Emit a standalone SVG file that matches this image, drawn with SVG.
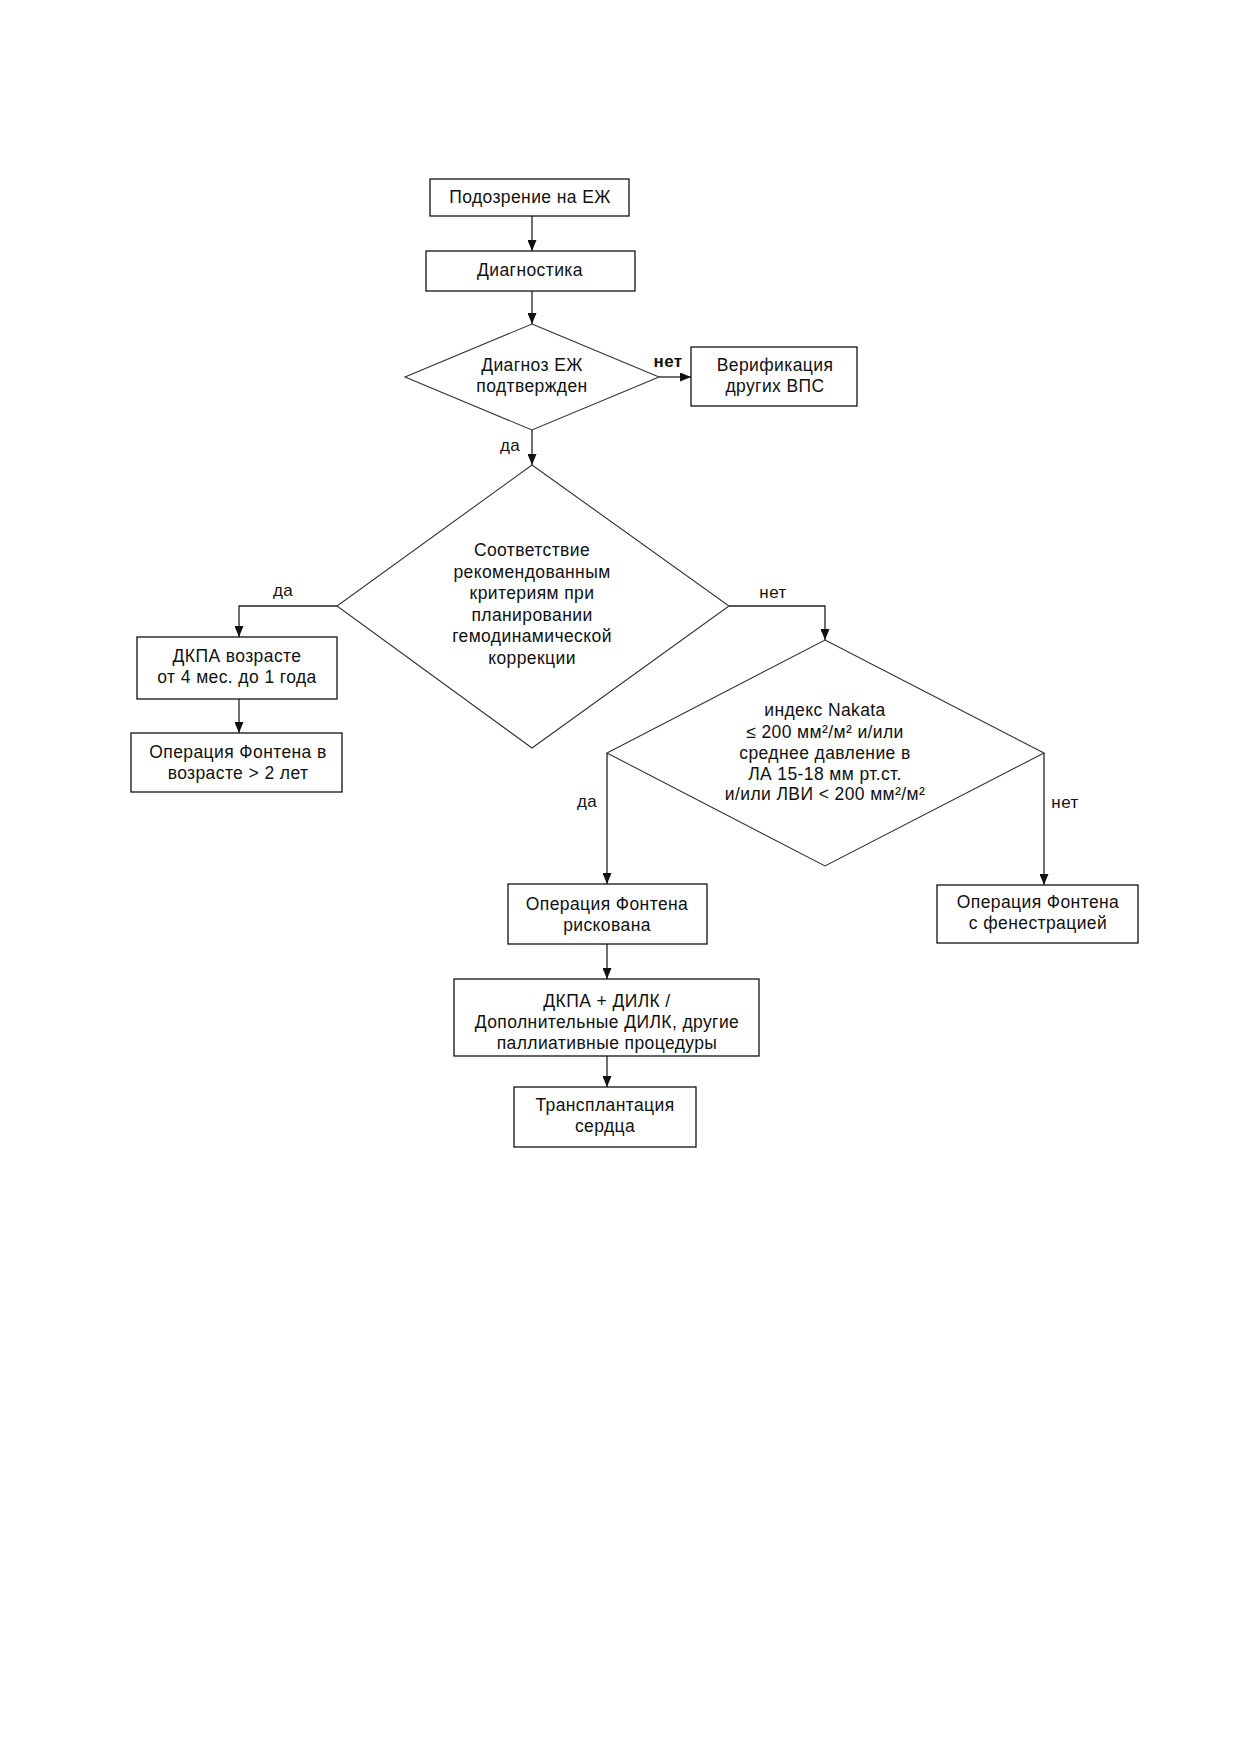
<svg xmlns="http://www.w3.org/2000/svg" width="1240" height="1754" viewBox="0 0 1240 1754">
<defs>
<marker id="arr" markerUnits="userSpaceOnUse" markerWidth="11" markerHeight="9" refX="11" refY="4.5" orient="auto">
<path d="M0,0 L11,4.5 L0,9 z" fill="#111"/>
</marker>
<style>
.box{fill:#fff;stroke:#111;stroke-width:1.3}
.dia{fill:#fff;stroke:#333;stroke-width:1.1}
.con{fill:none;stroke:#222;stroke-width:1.3;marker-end:url(#arr)}
text{font-family:"Liberation Sans",Arial,sans-serif;font-size:17.5px;letter-spacing:0.4px;fill:#111;text-anchor:middle}
.lbl{font-size:17px}
</style>
</defs>
<rect width="1240" height="1754" fill="#fff"/>

<g id="connectors">
<line class="con" x1="532" y1="216" x2="532" y2="251"/>
<line class="con" x1="532" y1="291" x2="532" y2="324"/>
<line class="con" x1="659" y1="377" x2="691" y2="377"/>
<line class="con" x1="532" y1="430" x2="532" y2="465"/>
<polyline class="con" points="337,606 239,606 239,637"/>
<line class="con" x1="239" y1="699" x2="239" y2="733"/>
<polyline class="con" points="729,606 825,606 825,640"/>
<line class="con" x1="607" y1="753" x2="607" y2="884"/>
<line class="con" x1="1044" y1="753" x2="1044" y2="885"/>
<line class="con" x1="607" y1="944" x2="607" y2="979"/>
<line class="con" x1="607" y1="1056" x2="607" y2="1087"/>
<text class="lbl" x="668" y="367" font-weight="bold">нет</text>
<text class="lbl" x="510" y="451">да</text>
<text class="lbl" x="283" y="596">да</text>
<text class="lbl" x="773" y="598">нет</text>
<text class="lbl" x="587" y="807">да</text>
<text class="lbl" x="1065" y="808">нет</text>
</g>

<g id="n1">
<rect class="box" x="430" y="179" width="199" height="37"/>
<text x="530" y="203">Подозрение на ЕЖ</text>
</g>

<g id="n2">
<rect class="box" x="426" y="251" width="209" height="40"/>
<text x="530" y="276">Диагностика</text>
</g>

<g id="d1">
<polygon class="dia" points="532,324 659,377 532,430 405,377"/>
<text x="532" y="371">Диагноз ЕЖ</text>
<text x="532" y="392">подтвержден</text>
</g>

<g id="n3">
<rect class="box" x="691" y="347" width="166" height="59"/>
<text x="775" y="371">Верификация</text>
<text x="775" y="392">других ВПС</text>
</g>

<g id="d2">
<polygon class="dia" points="532,465 729,606 532,748 337,606"/>
<text x="532" y="556">Соответствие</text>
<text x="532" y="577.5">рекомендованным</text>
<text x="532" y="599">критериям при</text>
<text x="532" y="620.5">планировании</text>
<text x="532" y="642">гемодинамической</text>
<text x="532" y="663.5">коррекции</text>
</g>

<g id="n4">
<rect class="box" x="137" y="637" width="200" height="62"/>
<text x="237" y="662">ДКПА возрасте</text>
<text x="237" y="683">от 4 мес. до 1 года</text>
</g>

<g id="n5">
<rect class="box" x="131" y="733" width="211" height="59"/>
<text x="238" y="758">Операция Фонтена в</text>
<text x="238" y="779">возрасте &gt; 2 лет</text>
</g>

<g id="d3">
<polygon class="dia" points="825,640 1044,753 825,866 607,753"/>
<text x="825" y="716">индекс Nakata</text>
<text x="825" y="738">≤ 200 мм²/м² и/или</text>
<text x="825" y="759">среднее давление в</text>
<text x="825" y="779.5">ЛА 15-18 мм рт.ст.</text>
<text x="825" y="800">и/или ЛВИ &lt; 200 мм²/м²</text>
</g>

<g id="n6">
<rect class="box" x="508" y="884" width="199" height="60"/>
<text x="607" y="910">Операция Фонтена</text>
<text x="607" y="931">рискована</text>
</g>

<g id="n7">
<rect class="box" x="937" y="885" width="201" height="58"/>
<text x="1038" y="908">Операция Фонтена</text>
<text x="1038" y="929">с фенестрацией</text>
</g>

<g id="n8">
<rect class="box" x="454" y="979" width="305" height="77"/>
<text x="607" y="1007">ДКПА + ДИЛК /</text>
<text x="607" y="1028">Дополнительные ДИЛК, другие</text>
<text x="607" y="1049">паллиативные процедуры</text>
</g>

<g id="n9">
<rect class="box" x="514" y="1087" width="182" height="60"/>
<text x="605" y="1111">Трансплантация</text>
<text x="605" y="1132">сердца</text>
</g>
</svg>
